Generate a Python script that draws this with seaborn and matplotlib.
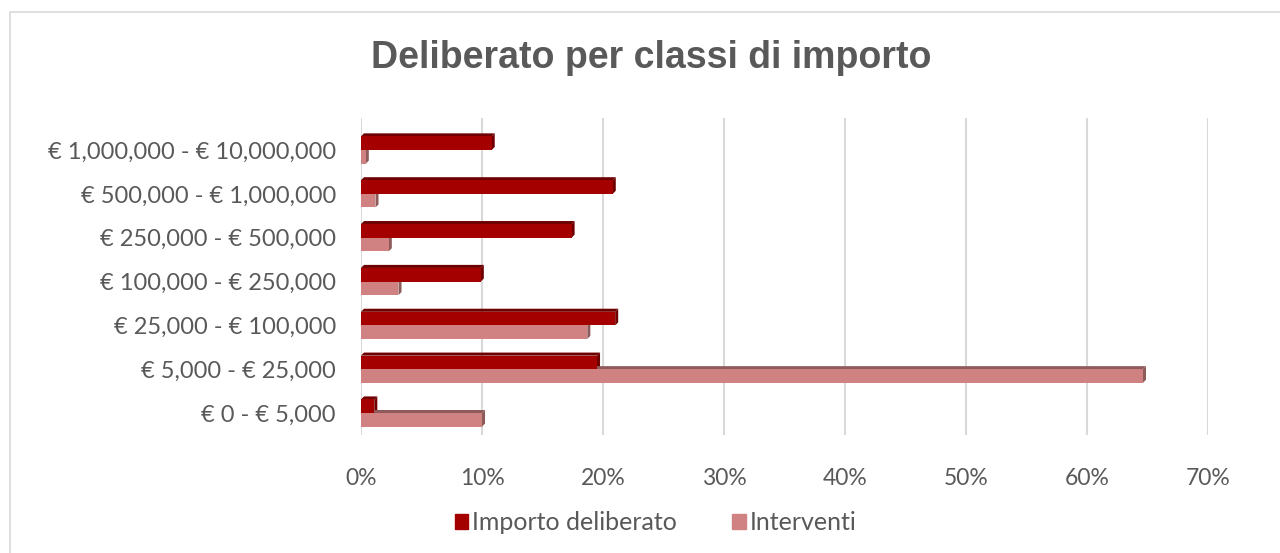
import numpy as np
import pandas as pd
import seaborn as sns
import matplotlib.pyplot as plt
from matplotlib.patches import Rectangle, Polygon
from matplotlib.ticker import PercentFormatter

# Data (percent)
classi = ['€ 1,000,000 - € 10,000,000', '€ 500,000 - € 1,000,000',
          '€ 250,000 - € 500,000', '€ 100,000 - € 250,000',
          '€ 25,000 - € 100,000', '€ 5,000 - € 25,000', '€ 0 - € 5,000']
importo_deliberato = [10.8, 20.8, 17.4, 9.9, 21.0, 19.5, 1.1]
interventi = [0.4, 1.2, 2.3, 3.1, 18.7, 64.6, 10.0]
serie = ['Importo deliberato', 'Interventi']
colori = ['#A50000', '#D08282']
lati = ['#6E0000', '#8E5A5A']

df = pd.DataFrame({'classe': classi * 2,
                   'valore': importo_deliberato + interventi,
                   'serie': [serie[0]] * 7 + [serie[1]] * 7})

sns.set_style('white')
plt.rcParams['font.family'] = ['Lato', 'DejaVu Sans']
grey = '#595959'

fig = plt.figure(figsize=(12.8, 5.53), dpi=100)
ax = fig.add_axes([0.282, 0.2134, 0.662, 0.5732])

sns.barplot(data=df, y='classe', x='valore', hue='serie', order=classi,
            hue_order=serie, palette=colori, orient='h', width=0.62,
            saturation=1, linewidth=0, edgecolor='none', ax=ax, legend=False)

# pseudo-3D depth on each bar
dx, dy = 0.25, 0.07
for patch, col in zip(list(ax.patches), [lati[0]] * 7 + [lati[1]] * 7):
    x0, y0 = patch.get_x(), patch.get_y()
    w, h = patch.get_width(), patch.get_height()
    patch.set_zorder(3)
    if w <= 0:
        continue
    side = Polygon([(x0 + w, y0), (x0 + w + dx, y0 - dy),
                    (x0 + w + dx, y0 + h - dy), (x0 + w, y0 + h)],
                   closed=True, facecolor=col, edgecolor='none', zorder=2)
    top = Polygon([(x0, y0), (x0 + dx, y0 - dy), (x0 + w + dx, y0 - dy),
                   (x0 + w, y0)], closed=True, facecolor=col,
                  edgecolor='none', zorder=2)
    ax.add_patch(side)
    ax.add_patch(top)

ax.set_xlim(0, 70)
ax.set_ylim(6.5, -0.73)
ax.set_xticks(np.arange(0, 71, 10))
ax.xaxis.set_major_formatter(PercentFormatter(decimals=0))
ax.grid(axis='x', color='#D9D9D9', linewidth=1.5, zorder=0)
ax.set_axisbelow(True)
for s in ax.spines.values():
    s.set_visible(False)
ax.set_xlabel('')
ax.set_ylabel('')
ax.tick_params(axis='x', length=0, pad=24, labelsize=16.5, labelcolor=grey)
ax.tick_params(axis='y', length=0, pad=18, labelsize=17, labelcolor=grey)

fig.text(0.509, 0.895, 'Deliberato per classi di importo', ha='center',
         va='center', fontsize=27, fontweight='bold', color=grey,
         family=['Liberation Sans', 'DejaVu Sans'])

handles = [Rectangle((0, 0), 1, 1, color=c) for c in colori]
fig.legend(handles, serie, loc='center', bbox_to_anchor=(0.512, 0.055),
           ncol=2, frameon=False, fontsize=18, labelcolor=grey,
           handlelength=0.55, handleheight=0.55, handletextpad=0.15,
           columnspacing=2.2)

fig.patches.append(Rectangle((10 / 1280, -0.02), 1.1, 1 - 12 / 553 + 0.02,
                             transform=fig.transFigure, fill=False,
                             edgecolor='#D9D9D9', linewidth=1.2))

fig.savefig('out.png', dpi=100)
